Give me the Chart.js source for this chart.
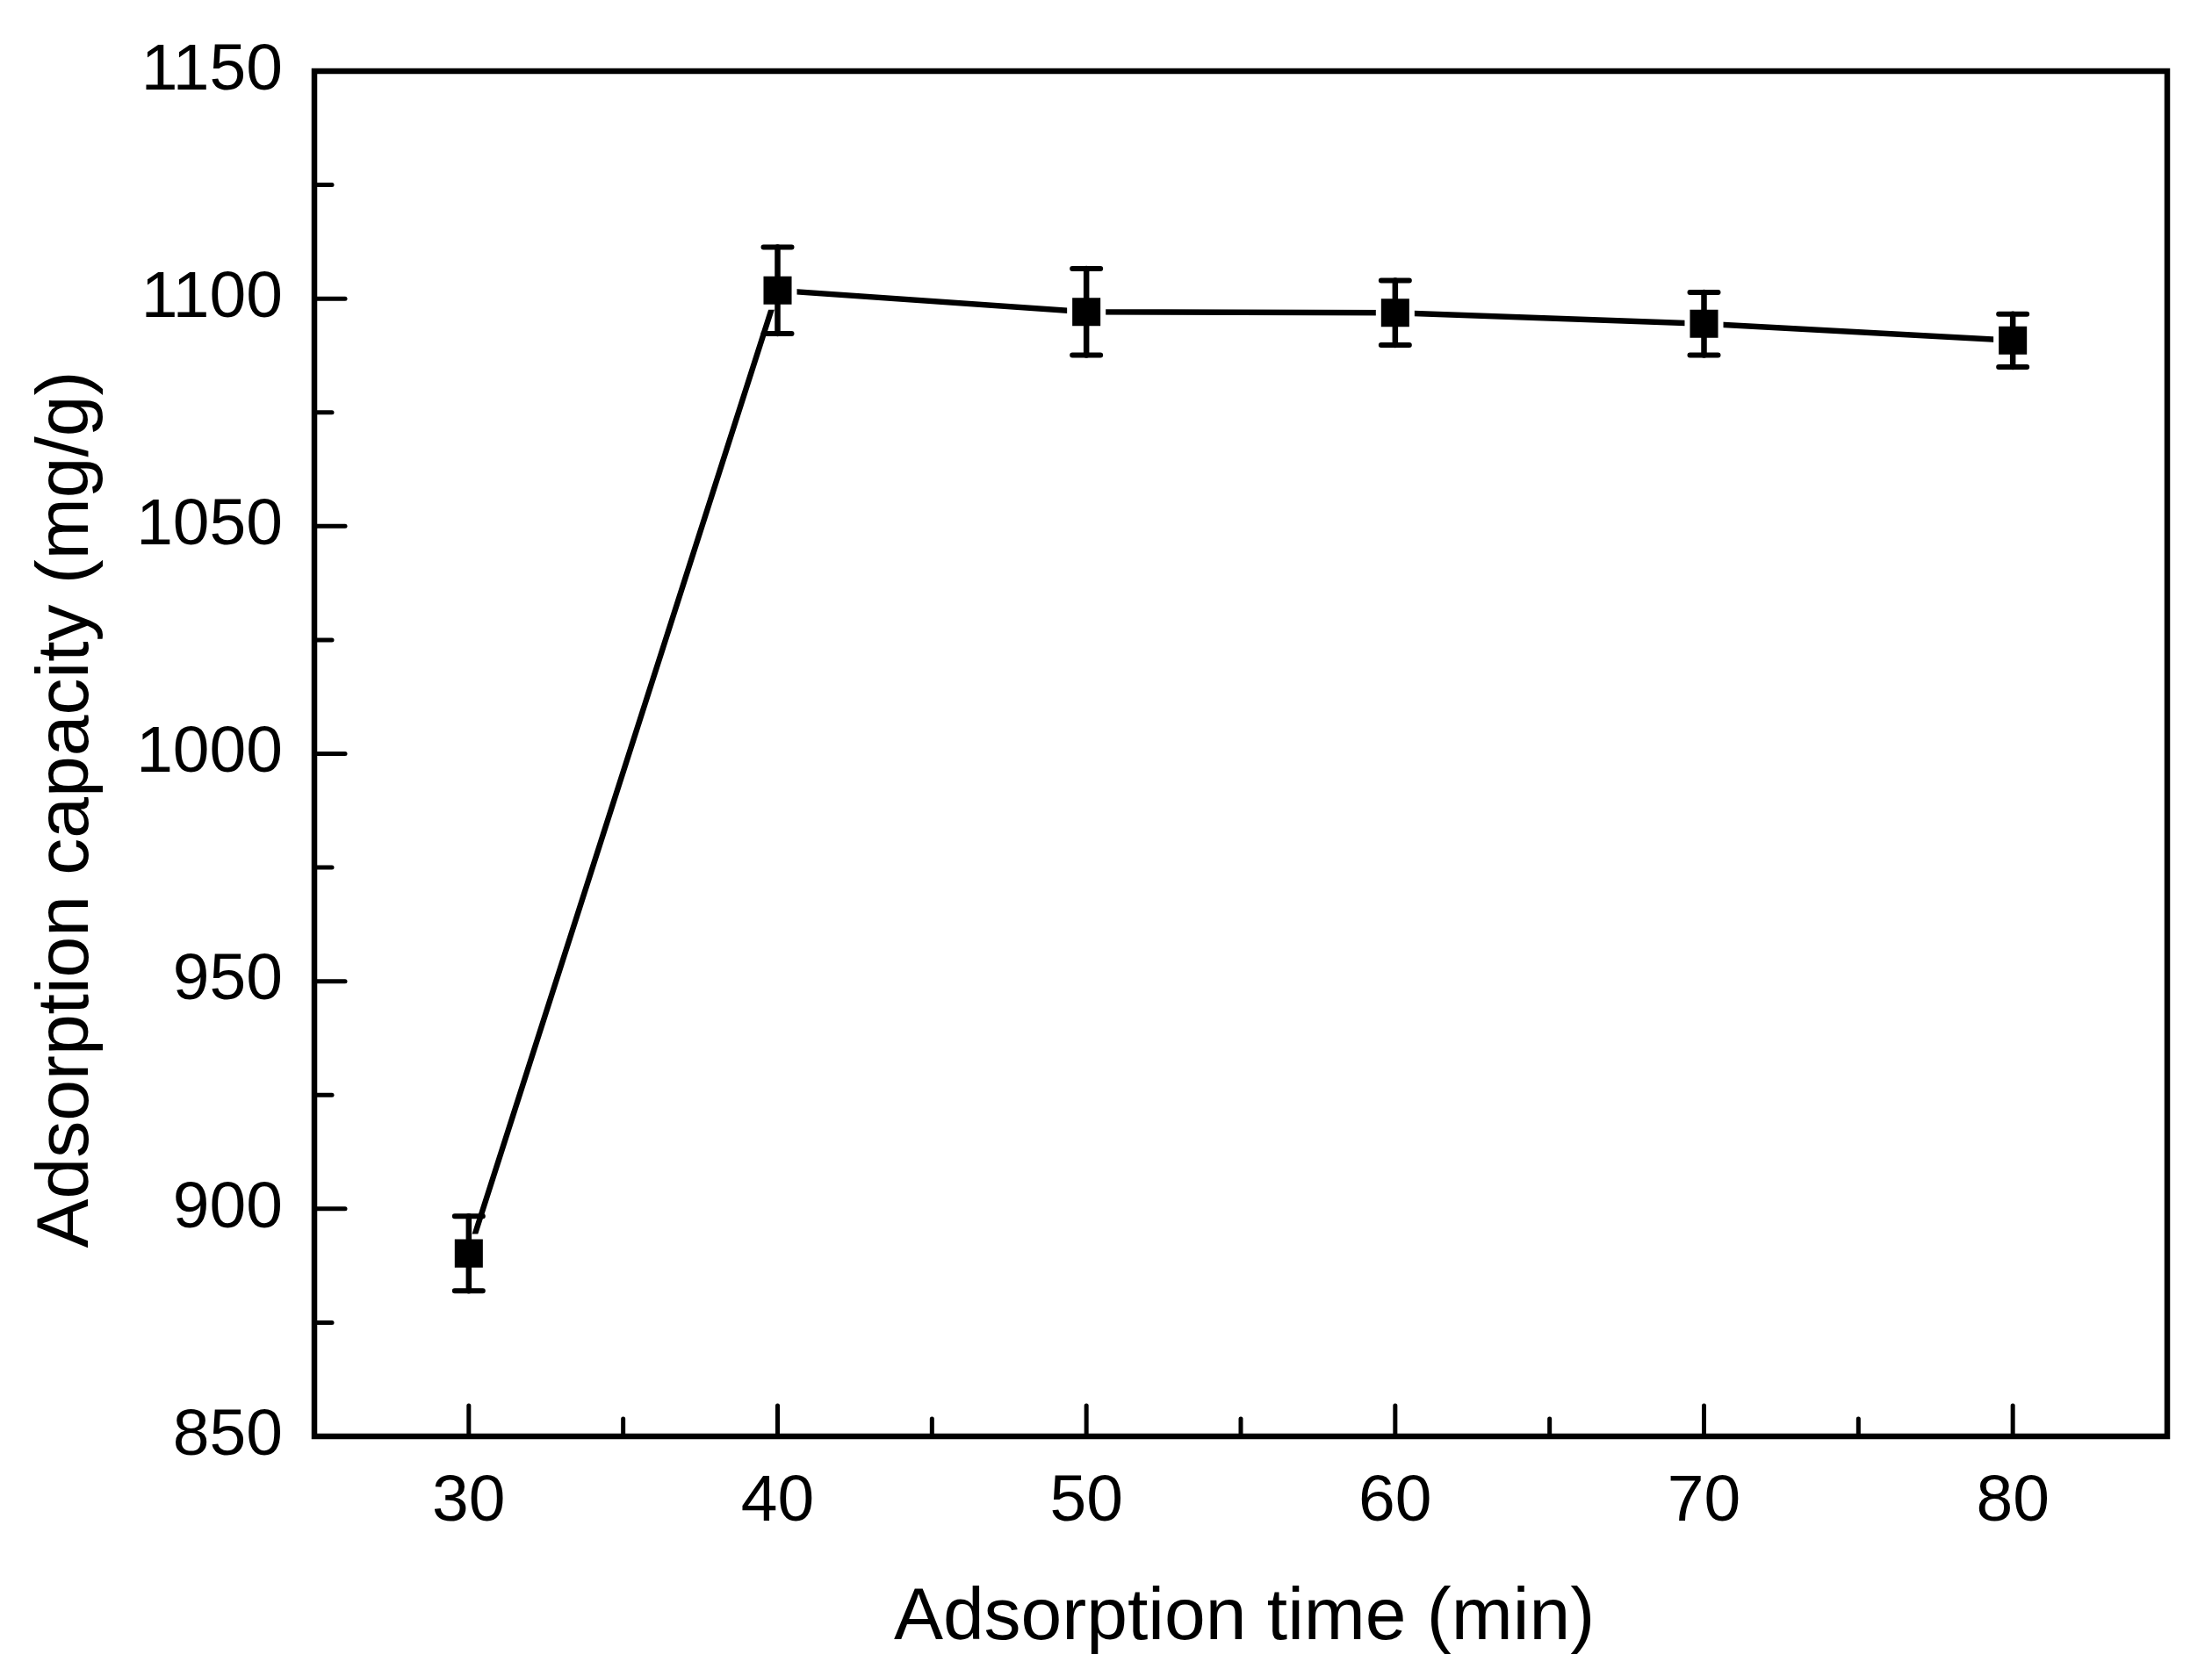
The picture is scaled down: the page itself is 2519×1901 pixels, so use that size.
<!DOCTYPE html>
<html>
<head>
<meta charset="utf-8">
<script src="https://cdn.jsdelivr.net/npm/chart.js@4.4.1/dist/chart.umd.min.js"></script>
<style>
  html, body { margin: 0; padding: 0; background: #fff; }
  #wrap { width: 2519px; height: 1901px; }
</style>
</head>
<body>
<div id="wrap"><canvas id="adsChart" width="2519" height="1901"></canvas></div>
<script>
// adsorption capacity vs. time, with error bars
const times = [30, 40, 50, 60, 70, 80];
const capacity = [890.2, 1101.8, 1097.1, 1096.9, 1094.5, 1090.8];
const errors = [8.2, 9.5, 9.5, 7.1, 6.9, 5.8];

const xTicks = [30, 40, 50, 60, 70, 80];
const xMinor = [35, 45, 55, 65, 75];
const yTicks = [850, 900, 950, 1000, 1050, 1100, 1150];
const yMinor = [875, 925, 975, 1025, 1075, 1125];

const xTitle = 'Adsorption time (min)';
const yTitle = 'Adsorption capacity (mg/g)';

const FONT = '"Liberation Sans", Arial, sans-serif';

// frame + inward ticks, like Origin
const framePlugin = {
  id: 'frame',
  afterDraw(chart) {
    const { ctx, chartArea: a, scales } = chart;
    ctx.save();
    ctx.strokeStyle = '#000';
    ctx.lineCap = 'round';
    ctx.lineWidth = 5;
    const tick = (x1, y1, x2, y2) => {
      ctx.beginPath(); ctx.moveTo(x1, y1); ctx.lineTo(x2, y2); ctx.stroke();
    };
    xTicks.forEach(v => { const x = scales.x.getPixelForValue(v); tick(x, a.bottom, x, a.bottom - 35); });
    xMinor.forEach(v => { const x = scales.x.getPixelForValue(v); tick(x, a.bottom, x, a.bottom - 20); });
    yTicks.forEach(v => { const y = scales.y.getPixelForValue(v); tick(a.left, y, a.left + 35, y); });
    yMinor.forEach(v => { const y = scales.y.getPixelForValue(v); tick(a.left, y, a.left + 20, y); });
    ctx.lineCap = 'square';
    ctx.lineWidth = 6.5;
    ctx.strokeRect(a.left, a.top, a.right - a.left, a.bottom - a.top);

    // axis titles
    ctx.fillStyle = '#000';
    ctx.font = '84px ' + FONT;
    ctx.textAlign = 'center';
    ctx.textBaseline = 'alphabetic';
    ctx.fillText(xTitle, (a.left + a.right) / 2 + 4, 1867);
    ctx.translate(100, 922);
    ctx.rotate(-Math.PI / 2);
    ctx.fillText(yTitle, 0, 0);
    ctx.restore();
  }
};

const errorBarPlugin = {
  id: 'errorBars',
  afterDatasetsDraw(chart) {
    const { ctx, scales } = chart;
    const meta = chart.getDatasetMeta(0);
    ctx.save();
    ctx.strokeStyle = '#000';
    ctx.lineCap = 'round';
    meta.data.forEach((pt, i) => {
      const yt = scales.y.getPixelForValue(capacity[i] + errors[i]);
      const yb = scales.y.getPixelForValue(capacity[i] - errors[i]);
      ctx.lineWidth = 6.5;
      ctx.beginPath(); ctx.moveTo(pt.x, yt); ctx.lineTo(pt.x, yb); ctx.stroke();
      ctx.lineWidth = 6;
      ctx.beginPath();
      ctx.moveTo(pt.x - 16, yt); ctx.lineTo(pt.x + 16, yt);
      ctx.moveTo(pt.x - 16, yb); ctx.lineTo(pt.x + 16, yb);
      ctx.stroke();
    });
    ctx.restore();
  }
};

const ctx = document.getElementById('adsChart').getContext('2d');

new Chart(ctx, {
  type: 'line',
  data: {
    datasets: [{
      data: times.map((t, i) => ({ x: t, y: capacity[i] })),
      borderColor: '#000',
      borderWidth: 6.5,
      backgroundColor: '#000',
      pointStyle: 'rect',
      pointRadius: 26.9,
      // white rim leaves the small gap between line and marker
      pointBorderWidth: 6,
      pointBorderColor: '#fff',
      pointBackgroundColor: '#000',
      tension: 0
    }]
  },
  options: {
    responsive: false,
    devicePixelRatio: 1,
    animation: false,
    layout: { padding: { left: 0, top: 80, right: 51, bottom: 0 } },
    plugins: {
      legend: { display: false },
      tooltip: { enabled: false }
    },
    scales: {
      x: {
        type: 'linear',
        min: 25,
        max: 85,
        afterBuildTicks: s => { s.ticks = xTicks.map(v => ({ value: v })); },
        afterFit: s => { s.height = 265; },
        grid: { display: false, drawTicks: false },
        border: { display: false },
        ticks: {
          color: '#000',
          padding: 30,
          callback: v => String(v),
          font: { family: FONT, size: 75 }
        }
      },
      y: {
        type: 'linear',
        min: 850,
        max: 1150,
        afterBuildTicks: s => { s.ticks = yTicks.map(v => ({ value: v })); },
        afterFit: s => { s.width = 358; },
        grid: { display: false, drawTicks: false },
        border: { display: false },
        ticks: {
          color: '#000',
          padding: 36,
          callback: v => String(v),
          font: { family: FONT, size: 75 }
        }
      }
    }
  },
  plugins: [framePlugin, errorBarPlugin]
});
</script>
</body>
</html>
